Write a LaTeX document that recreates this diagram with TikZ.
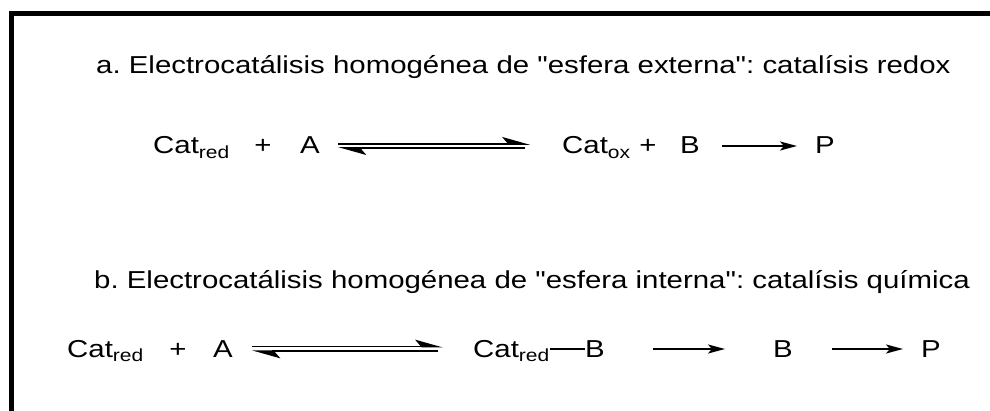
\documentclass[tikz,border=0pt]{standalone}
\usepackage{fontspec}
\setmainfont[FakeStretch=1.2, Ligatures=TeXOff]{Liberation Sans}
\usetikzlibrary{arrows.meta,positioning}
\newcommand{\chemsub}[1]{\raisebox{-5pt}{\fontsize{17.5pt}{18pt}\selectfont #1}}
\frenchspacing

\begin{document}
\begin{tikzpicture}[
  x=1pt, y=-1pt,
  font=\fontsize{24.5pt}{29pt}\selectfont,
  title/.style={anchor=base west, inner sep=0pt},
  species/.style={anchor=base west, inner sep=0pt, text height=17.5pt, text depth=1.5pt},
  plus/.style={anchor=base, inner sep=0pt, text height=17.5pt, text depth=1.5pt},
  arrow/.style={-{Stealth[length=17pt, width=9pt, inset=4pt]}, line width=2.2pt},
  harpoon/.style={-{Stealth[length=25pt, width=14pt, inset=6pt, left]}, line width=1.6pt},
  bond/.style={line width=1.3pt}
]
\useasboundingbox (0,0) rectangle (990,411);
\draw[line width=5pt] (11,411) |- (990,14);

\node[title] (titleA) at (96,74) {a. Electrocatálisis homogénea de "esfera externa": catalísis redox};
\node[species] (catredA) at (153,154) {Cat\chemsub{red}};
\node[plus] (plusA) at (263,154) {+};
\node[species] (subA) at (300,154) {A};
\node[species] (catox) at (562,154) {Cat\chemsub{ox}};
\node[plus] (plusB) at (648,154) {+};
\node[species] (medB) at (680,154) {B};
\node[species] (prodA) at (815,154) {P};

\draw[harpoon, shorten <=18.4pt, shorten >=32pt] ([yshift=2pt]subA.east) -- ([yshift=2pt]catox.west);
\draw[harpoon, shorten <=37pt, shorten >=18.4pt] ([yshift=-2pt]catox.west) -- ([yshift=-2pt]subA.east);
\draw[arrow, shorten <=22.4pt, shorten >=18pt] (medB) -- (prodA);

\node[title] (titleB) at (94,289) {b. Electrocatálisis homogénea de "esfera interna": catalísis química};
\node[species] (catredB) at (67,357) {Cat\chemsub{red}};
\node[plus] (plusC) at (178,357) {+};
\node[species] (subB) at (213,357) {A};
\node[species] (adduct) at (473,357) {Cat\chemsub{red}};
\node[species] (boundB) at (585,357) {B};
\node[species] (freeB) at (773,357) {B};
\node[species] (prodB) at (921,357) {P};

\draw[harpoon, shorten <=19.4pt, shorten >=30pt] ([yshift=2.3pt]subB.east) -- ([yshift=2.3pt]adduct.west);
\draw[harpoon, shorten <=35pt, shorten >=19.4pt] ([yshift=-2.3pt]adduct.west) -- ([yshift=-2.3pt]subB.east);
\draw[bond] (adduct) -- (boundB);
\draw[arrow, shorten <=48.4pt, shorten >=48pt] (boundB) -- (freeB);
\draw[arrow, shorten <=39.4pt, shorten >=18pt] (freeB) -- (prodB);
\end{tikzpicture}
\end{document}
